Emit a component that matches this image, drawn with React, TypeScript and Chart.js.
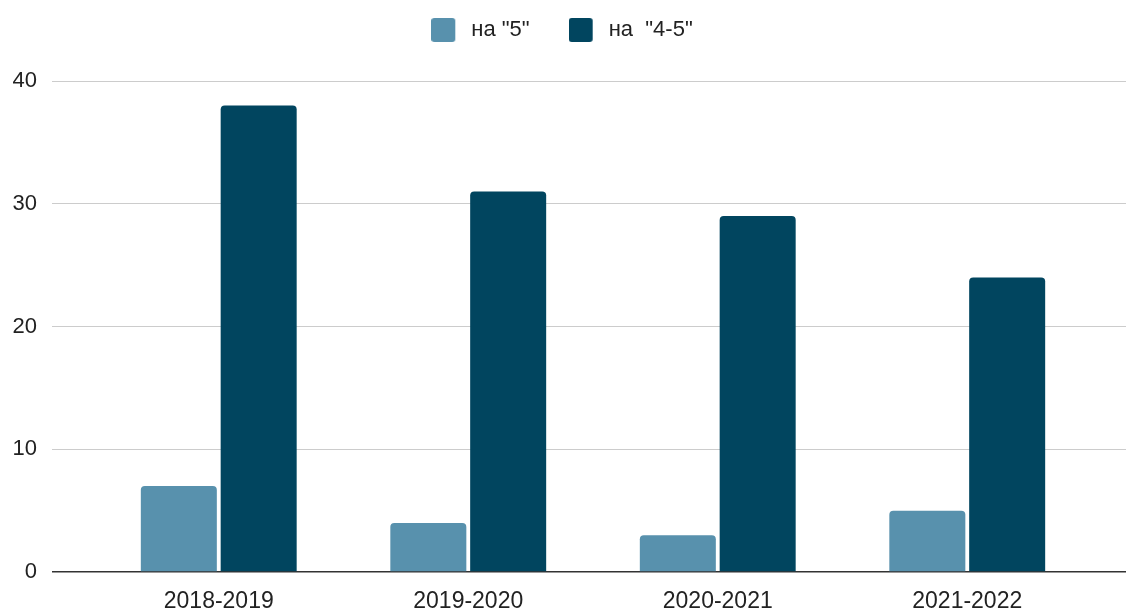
import React, { useEffect, useRef } from "react";
import { Chart, registerables } from "chart.js";

Chart.register(...registerables);

const categories = ["2018-2019", "2019-2020", "2020-2021", "2021-2022"];
const seriesFiveLabel = 'на "5"';
const seriesFourFiveLabel = 'на  "4-5"';
const seriesFive = [7, 4, 3, 5];
const seriesFourFive = [38, 31, 29, 24];
const yTicks = [0, 10, 20, 30, 40];

const LIGHT = "#5891ad";
const DARK = "#01455f";
const FONT = "'Liberation Sans', Arial, sans-serif";

function legendSwatch(color: string): HTMLCanvasElement {
  const c = document.createElement("canvas");
  c.width = 29;
  c.height = 24;
  const g = c.getContext("2d")!;
  g.fillStyle = color;
  g.beginPath();
  (g as any).roundRect(0, 0, 24, 24, 3);
  g.fill();
  return c;
}

export default function App() {
  const ref = useRef<HTMLCanvasElement | null>(null);

  useEffect(() => {
    if (!ref.current) return;
    const gridColor = (ctx: any) => (ctx.tick && ctx.tick.value === 0 ? "#333333" : "#cccccc");
    const gridWidth = (ctx: any) => (ctx.tick && ctx.tick.value === 0 ? 1.5 : 1);
    const legendAdjust = {
      id: "legendAdjust",
      beforeInit(chart: any) {
        const fit = chart.legend.fit;
        chart.legend.fit = function () {
          fit.bind(chart.legend)();
          this.height += 30;
        };
      },
      afterLayout(chart: any) {
        chart.legend.left -= 14;
      },
    };
    const chart = new Chart(ref.current, {
      type: "bar",
      data: {
        labels: categories,
        datasets: [
          {
            label: seriesFiveLabel,
            data: seriesFive,
            backgroundColor: LIGHT,
            borderRadius: 4,
            borderSkipped: "start",
            pointStyle: legendSwatch(LIGHT) as any,
          },
          {
            label: seriesFourFiveLabel,
            data: seriesFourFive,
            backgroundColor: DARK,
            borderRadius: 4,
            borderSkipped: "start",
            pointStyle: legendSwatch(DARK) as any,
          },
        ],
      },
      plugins: [legendAdjust],
      options: {
        animation: false,
        responsive: true,
        maintainAspectRatio: false,
        datasets: {
          bar: { categoryPercentage: 0.64, barPercentage: 0.952 },
        },
        layout: { padding: { left: 12, right: 0, top: -20, bottom: 0 } },
        plugins: {
          tooltip: { enabled: false },
          legend: {
            position: "top",
            labels: {
              usePointStyle: true,
              pointStyleWidth: 29,
              boxWidth: 29,
              boxHeight: 24,
              padding: 39,
              color: "#222222",
              font: { family: FONT, size: 22 },
            },
          },
        },
        scales: {
          x: {
            afterFit: (scale: any) => {
              scale.height = 38;
            },
            grid: { display: false, drawTicks: false },
            border: { display: false },
            ticks: {
              color: "#222222",
              padding: 18,
              font: { family: FONT, size: 23, lineHeight: 1.0 },
            },
          },
          y: {
            position: "left",
            min: 0,
            max: 40,
            afterBuildTicks: (scale: any) => {
              scale.ticks = yTicks.map((v) => ({ value: v }));
            },
            afterFit: (scale: any) => {
              scale.width = 82;
            },
            grid: { color: gridColor, lineWidth: gridWidth, tickLength: 42, drawTicks: true },
            border: { display: false },
            ticks: {
              color: "#222222",
              padding: 15,
              font: { family: FONT, size: 22 },
            },
          },
          y2: {
            position: "right",
            min: 0,
            max: 40,
            afterBuildTicks: (scale: any) => {
              scale.ticks = yTicks.map((v) => ({ value: v }));
            },
            grid: { color: gridColor, lineWidth: gridWidth, tickLength: 34, drawTicks: true, drawOnChartArea: false },
            border: { display: false },
            ticks: { display: false },
          },
        },
      },
    });
    return () => chart.destroy();
  }, []);

  return (
    <div style={{ position: "absolute", left: 0, top: 0, width: 1126, height: 610, background: "#ffffff" }}>
      <canvas ref={ref} />
    </div>
  );
}
